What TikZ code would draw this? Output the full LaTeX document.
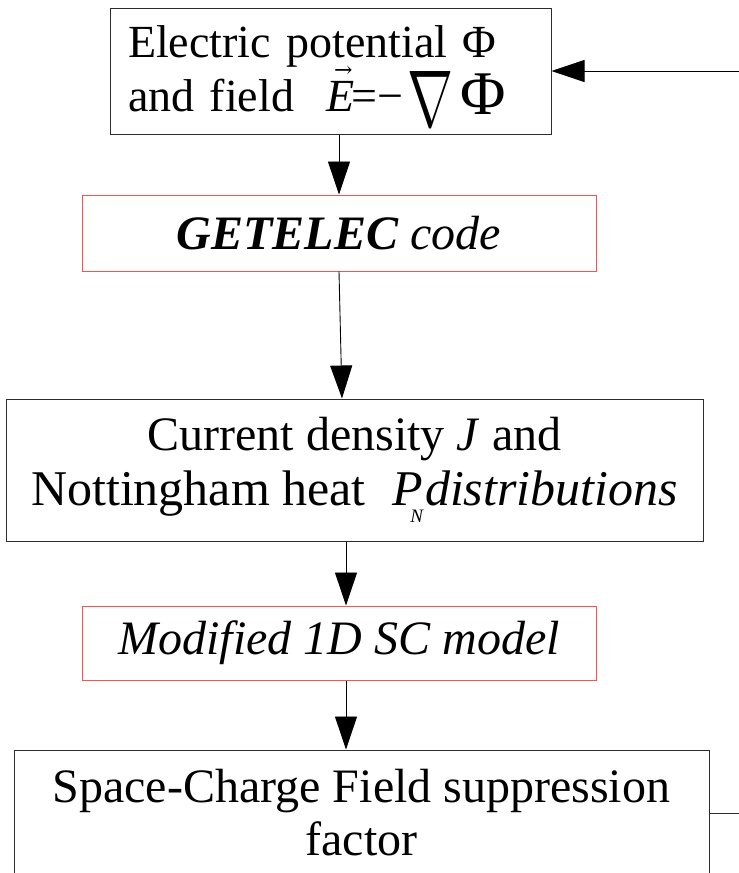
\documentclass[tikz,border=0pt]{standalone}
\usepackage{fontspec}
\setmainfont{Liberation Serif}
\newfontfamily\symf{DejaVu Serif}
\usepackage{graphicx}
\usetikzlibrary{arrows.meta}
\definecolor{boxred}{RGB}{255,80,80}
\definecolor{edgegray}{RGB}{45,45,45}
\begin{document}
\begin{tikzpicture}[x=1pt,y=1pt,
  box/.style={draw=edgegray, line width=1pt, inner sep=0pt, align=center},
  redbox/.style={draw=boxred, line width=1pt, inner sep=0pt, align=center},
  arr/.style={draw=black, line width=0.9pt, -{Triangle[length=33pt,width=22pt]}},
  link/.style={draw=edgegray, line width=0.9pt}]
\useasboundingbox (0,0) rectangle (739,-873);
\fill[white] (0,0) rectangle (739,-873);

\node[box, minimum width=441pt, minimum height=126pt, text width=405pt, align=left,
      font={\fontsize{46}{54}\selectfont\lineskiplimit=-100pt}] (b1) at (330.5,-71)
  {\rule{0pt}{41pt}Electric potential Φ\\
   and field\hspace{32pt}\rlap{\kern8pt\raisebox{34pt}{\fontsize{22}{22}\selectfont\symf →}}\textit{E}\kern-3pt=−\kern4pt\raisebox{-15pt}{\resizebox{46pt}{55pt}{$\nabla$}}\kern7pt\raisebox{-3pt}{\scalebox{1.35}{Φ}}};

\node[redbox, minimum width=514pt, minimum height=76pt,
      font=\fontsize{48}{55}\selectfont] (b2) at (339,-233)
  {\textbf{\textit{GETELEC}} \textit{code}};

\node[box, minimum width=697pt, minimum height=142pt,
      font=\fontsize{48}{55}\selectfont] (b3) at (354.5,-470)
  {Current density \textit{J} and\\
   {\fontsize{50}{55}\selectfont Nottingham heat\hspace{27pt}\textit{P}\kern-13pt\raisebox{-17pt}{\fontsize{19}{19}\selectfont\itshape N}\kern2pt\textit{distributions}}};

\node[redbox, minimum width=514pt, minimum height=74pt,
      font=\fontsize{48}{55}\selectfont] (b4) at (339,-643)
  {\textit{Modified 1D SC model}};

\node[box, minimum width=695pt, minimum height=140pt,
      font=\fontsize{48}{53}\selectfont] (b5) at (361.5,-820)
  {Space-Charge Field suppression\\factor\rule[-16pt]{0pt}{0pt}};

\coordinate (fbin) at (739,-71);
\coordinate (fbout) at (739,-813);

\draw[arr] (b1.south -| b2.north) -- (b2.north);
\draw[arr] (b2.south) -- ([xshift=-12.5pt]b3.north);
\draw[arr] ([xshift=-8.5pt]b3.south) -- ([xshift=7pt]b4.north);
\draw[arr] ([xshift=7pt]b4.south) -- ([xshift=-15.5pt]b5.north);
\draw[link] ([yshift=7pt]b5.east) -- (fbout);
\draw[arr] (fbin) -- (b1.east);
\end{tikzpicture}
\end{document}
